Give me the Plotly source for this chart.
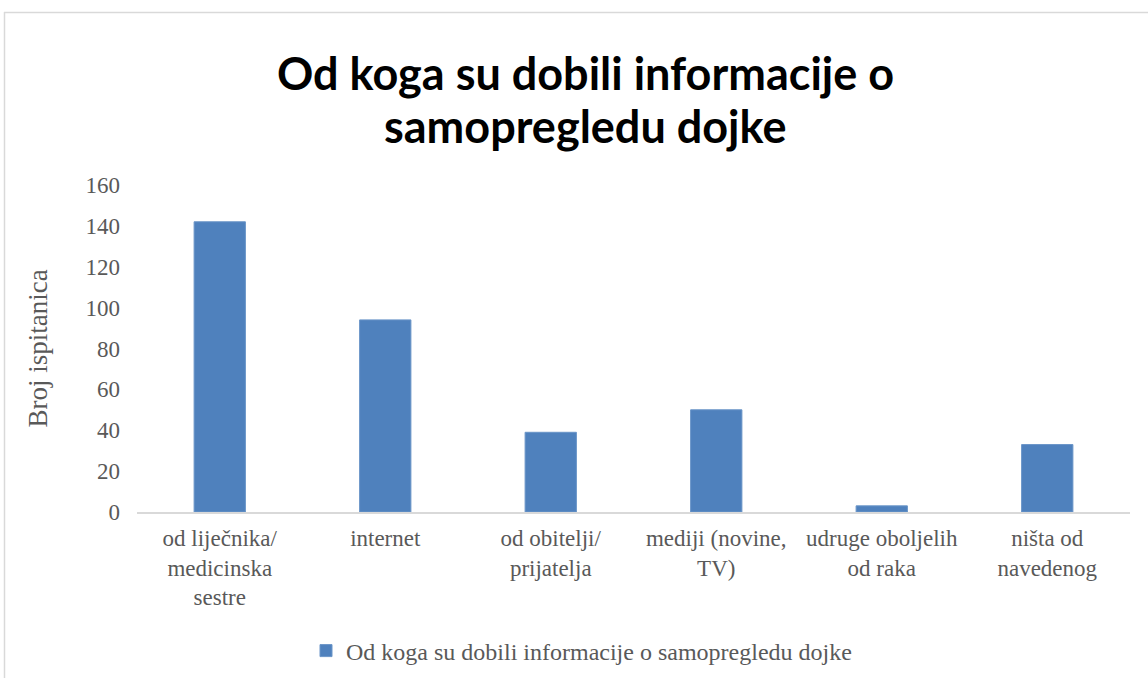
import plotly.graph_objects as go

categories = ["od liječnika/<br>medicinska<br>sestre", "internet", "od obitelji/<br>prijatelja",
              "mediji (novine,<br>TV)", "udruge oboljelih<br>od raka", "ništa od<br>navedenog"]
values = [142, 94, 39, 50, 3, 33]
series_name = "Od koga su dobili informacije o samopregledu dojke"
title_line1 = "Od koga su dobili informacije o"
title_line2 = "samopregledu dojke"
y_title = "Broj ispitanica"
y_ticks = [0, 20, 40, 60, 80, 100, 120, 140, 160]

W, H = 1148, 678
L, R, T, B = 137, 18, 185, 166
pw = W - L - R
ph = H - T - B

fig = go.Figure()
fig.add_trace(go.Bar(
    x=categories, y=values, name=series_name,
    marker=dict(color="#4f81bd", line=dict(color="#6a95c8", width=1)),
    width=0.31,
))

def px_x(p):
    return (p - L) / pw

def px_y(p):
    return (H - B - p) / ph

serif = "Liberation Serif, Times New Roman, serif"
title_font = dict(family="Lato", size=45, color="black", weight="bold")

fig.update_layout(
    width=W, height=H,
    margin=dict(l=L, r=R, t=T, b=B, autoexpand=False),
    paper_bgcolor="white", plot_bgcolor="white",
    showlegend=True,
    legend=dict(orientation="h", x=px_x(306), xanchor="left", y=px_y(651), yanchor="middle",
                font=dict(family=serif, size=24, color="#595959"),
                itemwidth=30),
    xaxis=dict(showgrid=False, showline=True, linecolor="#d9d9d9", linewidth=2,
               ticks="", tickfont=dict(family=serif, size=23, color="#595959"),
               ticklabelstandoff=4, automargin=False,
               range=[-0.5, 5.5]),
    yaxis=dict(range=[0, 160], tickvals=y_ticks, showgrid=False, showline=False, zeroline=False,
               ticks="", ticklen=0, tickfont=dict(family=serif, size=23, color="#595959"),
               ticklabelstandoff=16, automargin=False,
               title=dict(text=y_title, font=dict(family=serif, size=27, color="#595959"),
                          standoff=30)),
    font=dict(family=serif, color="#595959"),
    annotations=[
        dict(text=title_line1, xref="paper", yref="paper",
             x=px_x(585), y=px_y(73), xanchor="center", yanchor="middle",
             showarrow=False, font=title_font),
        dict(text=title_line2, xref="paper", yref="paper",
             x=px_x(585), y=px_y(126), xanchor="center", yanchor="middle",
             showarrow=False, font=title_font),
    ],
    shapes=[
        dict(type="line", xref="paper", yref="paper", x0=px_x(4), x1=px_x(1148),
             y0=px_y(12.5), y1=px_y(12.5), line=dict(color="#d9d9d9", width=1.5)),
        dict(type="line", xref="paper", yref="paper", x0=px_x(4.5), x1=px_x(4.5),
             y0=px_y(12), y1=px_y(678), line=dict(color="#d9d9d9", width=1.5)),
    ],
)

fig.write_html("out.html", config={"displayModeBar": False},
               post_script="document.body.style.margin='0';")
